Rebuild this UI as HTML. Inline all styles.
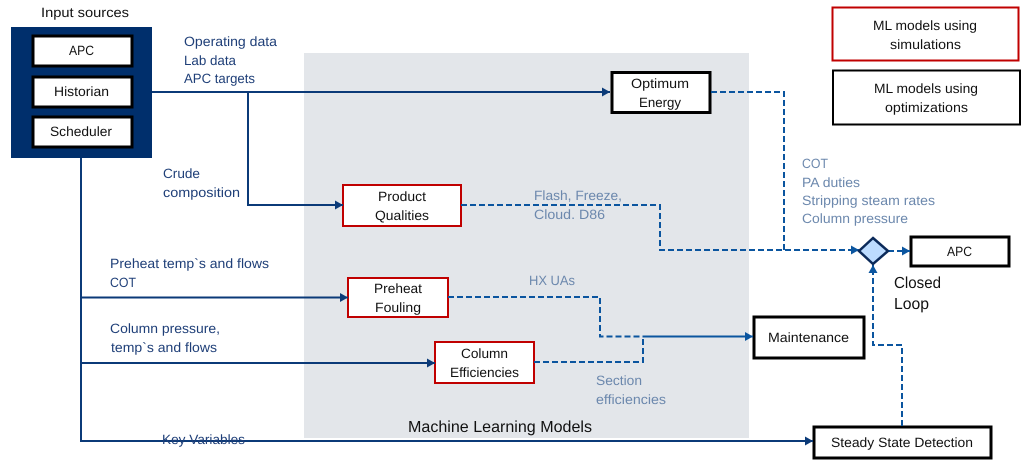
<!DOCTYPE html>
<html><head><meta charset="utf-8"><style>
html,body{margin:0;padding:0;background:#fff}
svg{display:block}
text{font-family:"Liberation Sans",sans-serif;font-size:13.5px;fill:#111;text-rendering:geometricPrecision}
.b{fill:#1f3f78}.g{fill:#6c88ad}
</style></head><body>
<svg width="1028" height="470" viewBox="0 0 1028 470" xmlns="http://www.w3.org/2000/svg">
<defs>
<marker id="n" markerUnits="userSpaceOnUse" markerWidth="8" markerHeight="9" refX="8" refY="4.500" orient="auto"><path d="M0 0L8 4.500L0 9z" fill="#0b3a78"/></marker>
<marker id="d" markerUnits="userSpaceOnUse" markerWidth="8" markerHeight="9" refX="8" refY="4.500" orient="auto"><path d="M0 0L8 4.500L0 9z" fill="#0b559f"/></marker>
</defs>
<rect width="1028" height="470" fill="#fff"/>
<rect x="304" y="53" width="445" height="385" fill="#e3e6ea"/>
<rect x="11" y="27" width="141" height="131" fill="#002f6c"/>
<g fill="#fff" stroke="#000" stroke-width="3">
<rect x="33" y="36" width="99" height="30"/><rect x="33" y="77" width="99" height="30"/><rect x="33" y="117" width="99" height="30"/>
<rect x="612" y="72.500" width="98" height="40"/>
<rect x="754" y="317" width="110" height="41"/>
<rect x="911" y="237" width="98" height="29"/>
<rect x="814" y="427" width="177" height="31"/>
</g>
<g fill="#fff" stroke="#000" stroke-width="2"><rect x="833" y="70.500" width="187" height="54"/></g>
<g fill="#fff" stroke="#c00000" stroke-width="2">
<rect x="832.500" y="7.500" width="186" height="53"/>
<rect x="343" y="185" width="118" height="41"/>
<rect x="348" y="278" width="100" height="39"/>
<rect x="435" y="342" width="99" height="41"/>
</g>
<g fill="none" stroke="#0b3a78" stroke-width="2">
<path d="M152 92H610" marker-end="url(#n)"/>
<path d="M248 92V205H343" marker-end="url(#n)"/>
<path d="M81 158V441H813" marker-end="url(#n)"/>
<path d="M81 297.500H348" marker-end="url(#n)"/>
<path d="M81 363H435" marker-end="url(#n)"/>
</g>
<g fill="none" stroke="#0b559f" stroke-width="2" stroke-dasharray="6 3">
<path d="M711 92H784V250"/>
<path d="M461 205H660V250H852"/>
<path d="M448 297H600V336.500H746"/>
<path d="M643 336.500H746" stroke-dashoffset="4"/>
<path d="M534 362H643V337"/>
<path d="M902 426V345H873V272"/>
<path d="M888 251H903"/>
</g>
<g fill="none" stroke="#0b559f" stroke-width="2">
<path d="M850 250H859" marker-end="url(#d)"/>
<path d="M744 336.500H753" marker-end="url(#d)"/>
<path d="M873 275V265" marker-end="url(#d)"/>
<path d="M901 251H910" marker-end="url(#d)"/>
</g>
<path d="M873 238L888 251L873 264L859 251z" fill="#bddcff" stroke="#0b2a5a" stroke-width="2.500"/>

<text x="41" y="17" textLength="88" lengthAdjust="spacingAndGlyphs">Input sources</text>
<text x="69" y="55" textLength="25" lengthAdjust="spacingAndGlyphs">APC</text>
<text x="54" y="96" textLength="55" lengthAdjust="spacingAndGlyphs">Historian</text>
<text x="50" y="136" textLength="62" lengthAdjust="spacingAndGlyphs">Scheduler</text>

<text class="b" x="184" y="46" textLength="93" lengthAdjust="spacingAndGlyphs">Operating data</text>
<text class="b" x="184" y="65" textLength="52" lengthAdjust="spacingAndGlyphs">Lab data</text>
<text class="b" x="184" y="83" textLength="71" lengthAdjust="spacingAndGlyphs">APC targets</text>
<text class="b" x="163" y="178" textLength="37" lengthAdjust="spacingAndGlyphs">Crude</text>
<text class="b" x="163" y="197" textLength="77" lengthAdjust="spacingAndGlyphs">composition</text>
<text class="b" x="110" y="268" textLength="159" lengthAdjust="spacingAndGlyphs">Preheat temp`s and flows</text>
<text class="b" x="110" y="287" textLength="26" lengthAdjust="spacingAndGlyphs">COT</text>
<text class="b" x="110" y="333" textLength="110" lengthAdjust="spacingAndGlyphs">Column pressure,</text>
<text class="b" x="111" y="352" textLength="106" lengthAdjust="spacingAndGlyphs">temp`s and flows</text>
<text class="b" x="162" y="444" textLength="83" lengthAdjust="spacingAndGlyphs">Key Variables</text>

<text x="631" y="88" textLength="58" lengthAdjust="spacingAndGlyphs">Optimum</text>
<text x="639" y="107" textLength="42" lengthAdjust="spacingAndGlyphs">Energy</text>
<text x="378" y="201" textLength="48" lengthAdjust="spacingAndGlyphs">Product</text>
<text x="375" y="220" textLength="54" lengthAdjust="spacingAndGlyphs">Qualities</text>
<text x="374" y="293" textLength="48" lengthAdjust="spacingAndGlyphs">Preheat</text>
<text x="375" y="312" textLength="46" lengthAdjust="spacingAndGlyphs">Fouling</text>
<text x="461" y="358" textLength="47" lengthAdjust="spacingAndGlyphs">Column</text>
<text x="450" y="377" textLength="69" lengthAdjust="spacingAndGlyphs">Efficiencies</text>
<text x="768" y="342" textLength="81" lengthAdjust="spacingAndGlyphs">Maintenance</text>
<text x="947" y="256" textLength="25" lengthAdjust="spacingAndGlyphs">APC</text>
<text x="831" y="447" textLength="142" lengthAdjust="spacingAndGlyphs">Steady State Detection</text>
<text x="873" y="30" textLength="104" lengthAdjust="spacingAndGlyphs">ML models using</text>
<text x="890" y="49" textLength="71" lengthAdjust="spacingAndGlyphs">simulations</text>
<text x="874" y="93" textLength="104" lengthAdjust="spacingAndGlyphs">ML models using</text>
<text x="885" y="112" textLength="83" lengthAdjust="spacingAndGlyphs">optimizations</text>

<text class="g" x="534" y="200" textLength="88" lengthAdjust="spacingAndGlyphs">Flash, Freeze,</text>
<text class="g" x="534" y="219" textLength="71" lengthAdjust="spacingAndGlyphs">Cloud. D86</text>
<text class="g" x="529" y="285" textLength="46" lengthAdjust="spacingAndGlyphs">HX UAs</text>
<text class="g" x="596" y="385" textLength="46" lengthAdjust="spacingAndGlyphs">Section</text>
<text class="g" x="596" y="404" textLength="70" lengthAdjust="spacingAndGlyphs">efficiencies</text>
<text class="g" x="802" y="168" textLength="26" lengthAdjust="spacingAndGlyphs">COT</text>
<text class="g" x="802" y="187" textLength="58" lengthAdjust="spacingAndGlyphs">PA duties</text>
<text class="g" x="802" y="205" textLength="133" lengthAdjust="spacingAndGlyphs">Stripping steam rates</text>
<text class="g" x="802" y="223" textLength="106" lengthAdjust="spacingAndGlyphs">Column pressure</text>

<text x="408" y="432" style="font-size:16px" textLength="184" lengthAdjust="spacingAndGlyphs">Machine Learning Models</text>
<text x="894" y="288" style="font-size:16px" textLength="47" lengthAdjust="spacingAndGlyphs">Closed</text>
<text x="894" y="309" style="font-size:16px" textLength="35" lengthAdjust="spacingAndGlyphs">Loop</text>
</svg>
</body></html>
